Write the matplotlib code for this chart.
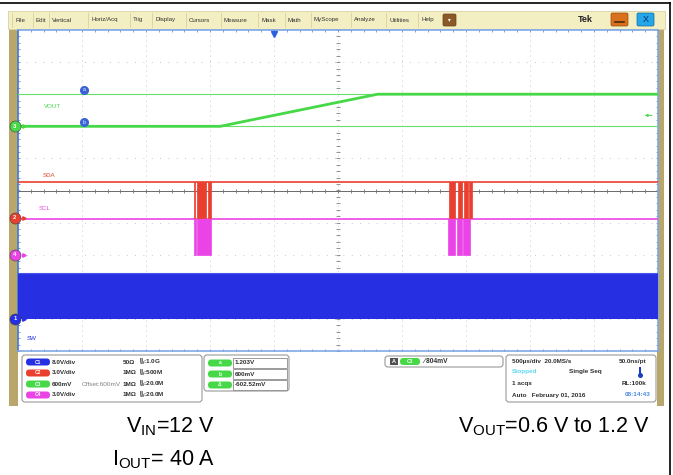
import numpy as np
import matplotlib
matplotlib.use("Agg")
import matplotlib.pyplot as plt
from matplotlib.patches import Rectangle, FancyBboxPatch

plt.rcParams["font.family"] = ["Liberation Sans", "DejaVu Sans"]
plt.rcParams["mathtext.fontset"] = "custom"
plt.rcParams["mathtext.rm"] = "Liberation Sans"
plt.rcParams["mathtext.bf"] = "Liberation Sans:bold"
plt.rcParams["mathtext.it"] = "Liberation Sans:italic"

# ---- values ----
# horizontal: 500 us/div, 10 div, trigger at t = 0 (ms)
time_span = [-2.0, 3.0]

# C3 VOUT (V), ramp 0.6 V -> 1.2 V
vout_t = [-2.0, -0.42, 0.81, 3.0]
vout_v = [0.6, 0.6, 1.2, 1.2]
cursor_a_v = 1.203
cursor_b_v = 0.600
trig_level_v = 0.804

# C2 SDA / C4 SCL idle at 3.3 V, pulled low in two bursts (start, end in ms)
i2c_high_v = 3.3
sda_low = [(-0.625, -0.614), (-0.601, -0.529), (-0.516, -0.496),
           (1.367, 1.417), (1.440, 1.469), (1.483, 1.512), (1.527, 1.547)]
scl_low = [(-0.625, -0.607), (-0.598, -0.496),
           (1.363, 1.413), (1.426, 1.468), (1.480, 1.535)]

# C1 SW switching envelope (V)
sw_low_v = 0.0
sw_high_v = 11.5

# channel settings
ch_names = ["C1", "C2", "C3", "C4"]
ch_scale = {"C1": 8.0, "C2": 3.0, "C3": 0.6, "C4": 3.0}      # V/div
ch_offset = {"C1": 0.0, "C2": 0.0, "C3": 0.6, "C4": 0.0}     # V
ch_labels = {"C1": "SW", "C2": "SDA", "C3": "VOUT", "C4": "SCL"}

# readout panel texts
ch_readout = ["8.0V/div", "3.0V/div", "600mV", "3.0V/div"]
ch_term = ["50\u03a9", "1M\u03a9", "1M\u03a9", "1M\u03a9"]
ch_bw = ["1.0G", "500M", "20.0M", "20.0M"]
cursor_readout = ["1.203V", "600mV", "-602.52mV"]
menu_items = ["File", "Edit", "Vertical", "Horiz/Acq", "Trig", "Display", "Cursors",
              "Measure", "Mask", "Math", "MyScope", "Analyze", "Utilities", "Help"]

# ---- layout / style ----
ch_pos = {"C1": -4.0, "C2": -0.85, "C3": 2.0, "C4": -2.0}     # div
ch_color = {"C1": "#2630e2", "C2": "#ea3f2e", "C3": "#46d846", "C4": "#ea44e6"}
tan = "#b9a66b"
W, H = 673, 475


def to_div(ch, v):
    return (np.asarray(v, dtype=float) - ch_offset[ch]) / ch_scale[ch] + ch_pos[ch]


fig = plt.figure(figsize=(W / 100, H / 100), dpi=100)
fig.patch.set_facecolor("white")

# background in pixel units: frame, menu bar, readout panels
bg = fig.add_axes([0, 0, 1, 1])
bg.set_xlim(0, W)
bg.set_ylim(H, 0)
bg.axis("off")

bg.plot([0, 670], [3, 3], color="black", lw=1.2)
bg.plot([670, 670], [3, H], color="black", lw=1.2)

bg.add_patch(Rectangle((9, 28), 9, 378, fc=tan, ec="none"))
bg.add_patch(Rectangle((657, 28), 7, 378, fc=tan, ec="none"))
bg.add_patch(Rectangle((8, 11), 657, 18, fc="#f4efc3", ec="#d9d2a2", lw=0.6))

menu_x = [15, 36, 52, 91, 133, 155, 189, 224, 261, 288, 314, 354, 389, 421]
for x, name in zip(menu_x, menu_items):
    bg.text(x, 20, name, fontsize=4.4, color="#303030", va="center")
    bg.plot([x - 3, x - 3], [13, 27], color="#d8d0a0", lw=0.6)
bg.add_patch(FancyBboxPatch((443, 14), 13, 12, boxstyle="round,pad=0,rounding_size=1.5",
                            fc="#8a5a28", ec="#6a4010", lw=0.5))
bg.text(449.5, 20, "\u25be", fontsize=4, color="white", ha="center", va="center")
bg.text(585, 20, "Tek", fontsize=6.5, weight="bold", color="#202020", ha="center", va="center")
bg.add_patch(FancyBboxPatch((611, 13), 17, 13, boxstyle="round,pad=0,rounding_size=1.5",
                            fc="#d8701e", ec="#9a4a10", lw=0.5))
bg.plot([615, 624], [22, 22], color="#4a2a08", lw=1.2)
bg.add_patch(FancyBboxPatch((637, 13), 17, 13, boxstyle="round,pad=0,rounding_size=1.5",
                            fc="#25a6e8", ec="#106aa0", lw=0.5))
bg.text(645.5, 19.5, "X", fontsize=6.5, color="#0a2a6a", ha="center", va="center")

bg.text(83, 42, "Swordfish MCM_ES1.1", fontsize=4.8, color="#303030", va="center")
bg.text(84, 52, "Vin=12V,Vout=0.6V to 1.2V", fontsize=4.8, color="#303030", va="center")
bg.text(85, 62.5, "Iout=40A", fontsize=4.8, color="#303030", va="center")
bg.text(401, 42, "RCSP=Rdiv1, FSW=625kHz", fontsize=4.8, color="#303030", va="center")


def panel(x0, y0, x1, y1):
    bg.add_patch(FancyBboxPatch((x0, y0), x1 - x0, y1 - y0,
                                boxstyle="round,pad=0,rounding_size=3",
                                fc="white", ec="#9a9a9a", lw=0.8))


def pill(x, y, color, label, w=24):
    bg.add_patch(FancyBboxPatch((x, y - 3.5), w, 7, boxstyle="round,pad=0,rounding_size=3.4",
                                fc=color, ec="none"))
    bg.text(x + w / 2, y, label, fontsize=3.5, color="white", weight="bold",
            ha="center", va="center")


# channel readouts
panel(22, 355, 202, 402)
row_y = [362, 373, 384, 395]
for ch, y, s, term, bw in zip(ch_names, row_y, ch_readout, ch_term, ch_bw):
    pill(26, y, ch_color[ch], ch)
    bg.text(52, y, s, fontsize=4.6, weight="bold", color="#303030", va="center")
    bg.text(123, y, term, fontsize=4.6, weight="bold", color="#303030", va="center")
    bg.text(139, y, r"$^{\mathbf{B}}_{\mathbf{W}}$:" + bw, fontsize=4.6, weight="bold",
            color="#303030", va="center")
bg.text(82, 384, "Offset:600mV", fontsize=4.6, color="#808080", va="center")

# cursor readouts
panel(204, 355, 289, 391)
for y, lab, val in zip([363, 374, 385], ["a", "b", "\u0394"], cursor_readout):
    pill(208, y, ch_color["C3"], lab)
    bg.add_patch(Rectangle((233, y - 5), 54, 10, fc="white", ec="#8a8a8a", lw=0.6))
    bg.text(235, y, val, fontsize=4.6, weight="bold", color="#303030", va="center")

# trigger readout
panel(385, 356, 503, 367)
bg.add_patch(Rectangle((390, 358), 8, 7, fc="#505050", ec="none"))
bg.text(394, 361.5, "A", fontsize=4, color="white", weight="bold", ha="center", va="center")
pill(400, 361.5, ch_color["C3"], "C3", w=20)
bg.text(423, 361.5, "\u2215 804mV", fontsize=4.8, weight="bold", color="#303030", va="center")

# horizontal / acquisition readout
panel(506, 355, 656, 402)
bg.text(512, 361, "500\u00b5s/div  20.0MS/s", fontsize=4.6, weight="bold", color="#303030", va="center")
bg.text(646, 361, "50.0ns/pt", fontsize=4.6, weight="bold", color="#303030", va="center", ha="right")
bg.text(512, 372, "Stopped", fontsize=4.6, weight="bold", color="#5fd8f0", va="center")
bg.text(569, 372, "Single Seq", fontsize=4.6, weight="bold", color="#303030", va="center")
bg.add_patch(Rectangle((639.3, 367), 1.6, 7, fc="#1a40c0", ec="none"))
bg.plot([640.1], [374.5], "o", ms=2.6, color="#1a40c0")
bg.text(512, 383.5, "1 acqs", fontsize=4.6, weight="bold", color="#303030", va="center")
bg.text(646, 383.5, "RL:100k", fontsize=4.6, weight="bold", color="#303030", va="center", ha="right")
bg.text(512, 395, "Auto   February 01, 2016", fontsize=4.6, weight="bold", color="#303030", va="center")
bg.text(651, 395, "08:14:43", fontsize=4.6, weight="bold", color="#4a8ae0", va="center", ha="right")

# caption under the screenshot
bg.text(215, 432, r"V$_{\mathrm{IN}}$=12 V", fontsize=15.5, ha="right", va="baseline", color="black")
bg.text(215, 465, r"I$_{\mathrm{OUT}}$= 40 A", fontsize=15.5, ha="right", va="baseline", color="black")
bg.text(458, 432, r"V$_{\mathrm{OUT}}$=0.6 V to 1.2 V", fontsize=15.5, ha="left", va="baseline",
        color="black")

# ---- graticule: 10 x 10 divisions ----
ax = fig.add_axes([18 / W, 1 - 351 / H, 640 / W, 321 / H])
ax.set_xlim(time_span)
ax.set_ylim(-5, 5)
ax.set_facecolor("white")
ax.set_xticks([])
ax.set_yticks([])
for side, sp in ax.spines.items():
    sp.set_color("#7fa8e8")
    sp.set_linewidth(1.2)
ax.spines["left"].set_color("#3f78dc")

grid_t = np.linspace(time_span[0], time_span[1], 11)
for t in grid_t[1:-1]:
    ax.plot([t, t], [-5, 5], color="#b4b4b4", lw=0.6, ls=(0, (1, 5)))
for d in range(-4, 5):
    ax.plot(time_span, [d, d], color="#b4b4b4", lw=0.6, ls=(0, (1, 9)))
ax.plot(time_span, [0, 0], color="#6a6a6a", lw=0.7)

minor_t = np.arange(time_span[0], time_span[1] + 1e-9, 0.1)
minor_d = np.arange(-5, 5 + 1e-9, 0.2)
for yy in (0, 5, -5):
    ax.plot(minor_t, np.full_like(minor_t, yy), ls="none", marker="|", ms=3.5,
            mew=0.6, color="#707070" if yy == 0 else "#6c8fd0")
for tt in (0.5, time_span[0], time_span[1]):
    ax.plot(np.full_like(minor_d, tt), minor_d, ls="none", marker="_", ms=3.5,
            mew=0.6, color="#808080" if tt == 0.5 else "#6c8fd0")

# C1 SW: switching envelope
ax.fill_between(time_span, to_div("C1", sw_low_v), to_div("C1", sw_high_v),
                color=ch_color["C1"], lw=0, zorder=3)
ax.plot(time_span, [to_div("C1", sw_high_v)] * 2, color="#4a55ea", lw=0.8, zorder=3)

# C4 SCL
scl_hi = float(to_div("C4", i2c_high_v))
scl_lo = float(to_div("C4", 0.0))
ax.plot(time_span, [scl_hi, scl_hi], color=ch_color["C4"], lw=1.2, zorder=3)
ax.broken_barh([(a, b - a) for a, b in scl_low], (scl_lo, scl_hi - scl_lo),
               facecolor=ch_color["C4"], edgecolor=ch_color["C4"], lw=0.5, zorder=3)

# C2 SDA
sda_hi = float(to_div("C2", i2c_high_v))
sda_lo = float(to_div("C2", 0.0))
ax.plot(time_span, [sda_hi, sda_hi], color=ch_color["C2"], lw=1.2, zorder=3)
ax.broken_barh([(a, b - a) for a, b in sda_low], (sda_lo, sda_hi - sda_lo),
               facecolor=ch_color["C2"], edgecolor=ch_color["C2"], lw=0.5, zorder=3)

# C3 VOUT with cursors
ax.plot(time_span, [to_div("C3", cursor_a_v)] * 2, color="#66e066", lw=0.8, zorder=3)
ax.plot(time_span, [to_div("C3", cursor_b_v)] * 2, color="#66e066", lw=0.8, zorder=3)
ax.plot(vout_t, to_div("C3", vout_v), color=ch_color["C3"], lw=2.0, zorder=4)

ytr = ax.get_yaxis_transform()
for lab, v in (("a", cursor_a_v), ("b", cursor_b_v)):
    y = float(to_div("C3", v)) + 0.13
    ax.plot([0.103], [y], "o", ms=5.5, color="#3a62d8", transform=ytr, zorder=5)
    ax.text(0.103, y, lab, fontsize=3.6, color="white", ha="center", va="center",
            transform=ytr, zorder=6)

# channel reference markers on the left edge
ref_level = {ch: float(to_div(ch, ch_offset[ch])) for ch in ch_names}
for ch in ch_names:
    y = ref_level[ch]
    ax.plot([-0.005], [y], "o", ms=8, color=ch_color[ch], mec="#404040", mew=0.4,
            transform=ytr, clip_on=False, zorder=6)
    ax.text(-0.005, y, ch[1], fontsize=4.2, color="white", weight="bold", ha="center",
            va="center", transform=ytr, clip_on=False, zorder=7)
    ax.plot([0.009], [y], marker=">", ms=2.5, color=ch_color[ch], transform=ytr,
            clip_on=False, zorder=6)

# channel labels (x in axes fraction, y offset in div from reference marker)
for ch, x, dy in (("C3", 0.04, 0.63), ("C2", 0.038, 1.33), ("C4", 0.032, 1.45), ("C1", 0.014, -0.6)):
    ax.text(x, ref_level[ch] + dy, ch_labels[ch], fontsize=4.4,
            color=ch_color[ch], transform=ytr, va="center", zorder=5)

# trigger level (right) and trigger position (top)
ty = float(to_div("C3", trig_level_v))
ax.annotate("", xy=(0.975, ty), xytext=(0.995, ty), xycoords=ytr,
            arrowprops=dict(arrowstyle="-|>", color=ch_color["C3"], lw=0.7,
                            mutation_scale=4))
ax.plot([0.0], [4.88], marker="v", ms=5, color="#2a62dc", zorder=6, clip_on=False)

fig.savefig("out.png", dpi=100, facecolor="white")
